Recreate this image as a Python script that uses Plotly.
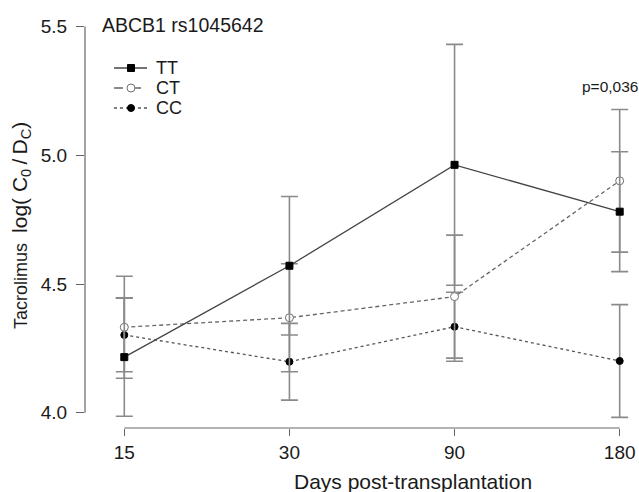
import plotly.graph_objects as go

# ---- data ----
days = ["15", "30", "90", "180"]
x_pos = [0, 1, 2, 3]

tt_mean = [4.216, 4.571, 4.963, 4.781]
tt_err = [0.230, 0.269, 0.468, 0.233]
ct_mean = [4.332, 4.369, 4.451, 4.901]
ct_err = [0.198, 0.210, 0.239, 0.277]
cc_mean = [4.302, 4.198, 4.334, 4.201]
cc_err = [0.143, 0.149, 0.134, 0.219]

y_ticks = [4.0, 4.5, 5.0, 5.5]
y_tick_text = ["4.0", "4.5", "5.0", "5.5"]

FONT = "Liberation Sans, Arial, sans-serif"
ERR_COLOR = "#8a8a8a"
AX_COLOR = "#666666"
TXT = "#1a1a1a"

W, H = 639, 492
ML, MR, MT, MB = 85, 4, 20, 64
PW, PH = W - ML - MR, H - MT - MB


def px_x(px):
    return (px - ML) / PW


def px_y(py):
    return 1 - (py - MT) / PH


styles = {
    "TT": dict(line_color="#444444", dash="solid", symbol="square",
               mfill="black", mline="black", msize=7),
    "CT": dict(line_color="#666666", dash="4px,3px", symbol="circle",
               mfill="white", mline="#707070", msize=8),
    "CC": dict(line_color="#555555", dash="dot", symbol="circle",
               mfill="black", mline="black", msize=7),
}
series = {"TT": (tt_mean, tt_err), "CT": (ct_mean, ct_err), "CC": (cc_mean, cc_err)}

fig = go.Figure()

for name in ["CC", "CT", "TT"]:
    y, err = series[name]
    s = styles[name]
    fig.add_trace(go.Scatter(
        x=x_pos, y=y, name=name, mode="lines+markers", showlegend=False,
        line=dict(color=s["line_color"], width=1.3, dash=s["dash"]),
        marker=dict(symbol=s["symbol"], size=s["msize"], color=s["mfill"],
                    line=dict(color=s["mline"], width=1)),
        error_y=dict(type="data", array=err, visible=True,
                     color=ERR_COLOR, thickness=1.6, width=8.5),
        cliponaxis=False,
    ))

# R-style axis lines spanning only the tick range
fig.add_shape(type="line", xref="paper", yref="y", x0=0, x1=0,
              y0=y_ticks[0], y1=y_ticks[-1], line=dict(color=AX_COLOR, width=1.2))
fig.add_shape(type="line", xref="x", yref="paper", x0=x_pos[0], x1=x_pos[-1],
              y0=0, y1=0, line=dict(color=AX_COLOR, width=1.2))

# manual legend (R-style: short line, symbol in the middle)
legend_names = ["TT", "CT", "CC"]
legend_rows = [68, 88, 108]
for name, ry in zip(legend_names, legend_rows):
    s = styles[name]
    yy = px_y(ry)
    fig.add_shape(type="line", xref="paper", yref="paper",
                  x0=px_x(114), x1=px_x(147), y0=yy, y1=yy,
                  line=dict(color=s["line_color"], width=1.3,
                            dash="dash" if name == "CT" else s["dash"]))
    r = s["msize"] / 2
    fig.add_shape(type="rect" if s["symbol"] == "square" else "circle",
                  xref="paper", yref="paper",
                  xsizemode="pixel", ysizemode="pixel",
                  xanchor=px_x(131), yanchor=yy,
                  x0=-r, x1=r, y0=-r, y1=r,
                  fillcolor=s["mfill"], line=dict(color=s["mline"], width=1))
    fig.add_annotation(text=name, xref="paper", yref="paper",
                       x=px_x(154), y=yy, xanchor="left", yanchor="middle",
                       showarrow=False, font=dict(family=FONT, size=18, color=TXT))

fig.update_xaxes(range=[-0.238, 3.0927], tickvals=x_pos, ticktext=days,
                 showgrid=False, zeroline=False, showline=False,
                 ticks="outside", ticklen=7, tickwidth=1.2, tickcolor=AX_COLOR,
                 tickfont=dict(family=FONT, size=19, color=TXT),
                 ticklabelstandoff=0)
fig.update_yaxes(range=[3.9406, 5.5257], tickvals=y_ticks, ticktext=y_tick_text,
                 showgrid=False, zeroline=False, showline=False,
                 ticks="outside", ticklen=8, tickwidth=1.2, tickcolor=AX_COLOR,
                 tickfont=dict(family=FONT, size=19, color=TXT),
                 ticklabelstandoff=5)

fig.add_annotation(text="Days post-transplantation", xref="paper", yref="paper",
                   x=px_x(413), y=px_y(481), xanchor="center", yanchor="middle",
                   showarrow=False, font=dict(family=FONT, size=21, color=TXT))
fig.add_annotation(
    text=("Tacrolimus\u00a0\u00a0<span style=\"font-size:21px\">log(\u00a0C<sub>0</sub>"
          "\u2009/\u2009D<sub>C</sub>)</span>"),
    xref="paper", yref="paper", x=px_x(21), y=px_y(226),
    xanchor="center", yanchor="middle", textangle=-90,
    showarrow=False, font=dict(family=FONT, size=18, color=TXT))
fig.add_annotation(text="ABCB1 rs1045642", xref="paper", yref="paper",
                   x=px_x(100), y=px_y(25), xanchor="left", yanchor="middle",
                   showarrow=False, font=dict(family=FONT, size=19.5, color=TXT))
fig.add_annotation(text="p=0,036", xref="paper", yref="paper",
                   x=px_x(610), y=px_y(86.5), xanchor="center", yanchor="middle",
                   showarrow=False, font=dict(family=FONT, size=15.5, color=TXT))

fig.update_layout(
    width=W, height=H,
    margin=dict(l=ML, r=MR, t=MT, b=MB),
    paper_bgcolor="white", plot_bgcolor="white",
    showlegend=False,
)

fig.write_html(
    "out.html",
    config={"displayModeBar": False},
    post_script=("document.body.style.margin='0';"
                 "document.body.style.overflow='hidden';"),
)
